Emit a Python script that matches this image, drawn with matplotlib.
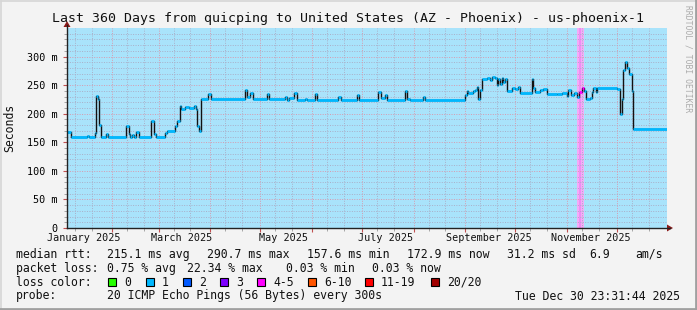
import datetime as dt
import matplotlib
matplotlib.use('Agg')
import matplotlib.pyplot as plt
from matplotlib.patches import Rectangle, Polygon

plt.rcParams['font.family'] = 'DejaVu Sans Mono'

W, H = 697, 310
t_end = dt.datetime(2025, 12, 30, 23, 31, 44)
t_start = t_end - dt.timedelta(days=360)

# median rtt as steps: day offset from start, value in ms
t_days = [0.0, 2.6, 12.0, 13.0, 17.0, 17.6, 18.6, 19.4, 20.6, 23.6, 24.6,
          35.6, 37.0, 38.0, 39.0, 40.0, 41.4, 43.4, 50.6, 52.2, 53.4, 59.0,
          60.0, 65.0, 66.2, 67.6, 68.6, 71.0, 73.0, 76.0, 77.4, 78.0, 79.0,
          80.6, 84.8, 86.2, 106.8, 108.2, 109.8, 111.4, 119.8, 121.0, 130.8,
          132.2, 133.4, 136.4, 137.8, 142.8, 143.8, 148.8, 150.2, 162.8,
          164.2, 173.8, 175.2, 186.8, 188.2, 190.8, 191.8, 202.8, 204.2,
          205.8, 213.8, 215.0, 238.8, 239.8, 240.8, 243.8, 244.8, 245.8,
          246.4, 247.8, 248.8, 251.8, 253.8, 254.8, 256.8, 257.8, 258.8,
          259.8, 260.8, 261.8, 262.8, 263.8, 266.8, 268.8, 270.8, 271.8,
          278.8, 279.8, 280.8, 283.8, 285.8, 287.8, 293.8, 296.8, 299.8,
          300.8, 302.2, 304.2, 305.8, 307.4, 308.8, 310.2, 311.4, 313.8,
          314.8, 315.8, 317.4, 318.2, 330.2, 331.8, 332.8, 333.8, 335.0,
          335.8, 337.2, 338.8, 339.8]
median_ms = [167.7, 159, 161, 159, 166, 231, 226, 180, 160, 165, 159,
             178, 165, 159, 163, 159, 168, 159, 187, 165, 159, 166,
             170, 178, 188, 214, 208, 212, 210, 213, 208, 178, 170,
             226, 235, 226, 241, 230, 236, 226, 235, 226, 229,
             224, 228, 236, 224, 226, 224, 234, 224, 229,
             224, 232, 224, 238, 228, 233, 224, 239, 226,
             224, 229, 224, 232, 240, 236, 239, 242, 246,
             226, 242, 261, 263, 259, 264, 262, 250, 260,
             252, 262, 256, 261, 239, 245, 243, 246, 237,
             261, 245, 238, 241, 244, 235, 234, 236, 231,
             241, 232, 236, 230, 238, 245, 240, 226, 228,
             238, 245, 238, 245, 244, 200, 225, 277, 291,
             280, 270, 239, 174]

# loss class 4-5 period (days)
loss_span = (306.0, 310.2)
loss_core = (307.0, 308.4)

loss_labels = ['0', '1', '2', '3', '4-5', '6-10', '11-19', '20/20']
loss_colors = ['#26ff00', '#00b8ff', '#0059ff', '#7e00ff', '#ff00ff',
               '#ff5500', '#ff0000', '#a10000']


def day(d):
    return (d - t_start).total_seconds() / 86400.0


fig = plt.figure(figsize=(W / 100, H / 100), dpi=100)
fig.patch.set_facecolor('#f3f3f3')

ax = fig.add_axes([67 / W, (H - 228) / H, 600 / W, 200 / H])
ax.set_facecolor('#a9e3fb')
ax.set_xlim(0, 360)
ax.set_ylim(0, 350)
for s in ax.spines.values():
    s.set_visible(False)

ax.axvspan(*loss_span, color='#f5aaf7', lw=0, zorder=0.5)
ax.axvspan(*loss_core, color='#ee8ef3', lw=0, zorder=0.6)

# grid
major_c = '#d89aae'
minor_c = '#a9afc8'
dots = (0, (1, 1.5))
for v in range(10, 350, 10):
    ax.axhline(v, color=major_c if v % 50 == 0 else minor_c, lw=0.7,
               ls=dots, zorder=1)
month_starts = [day(dt.datetime(2025, m, 1)) for m in range(2, 13)]
minor_days = [day(dt.datetime(2025, m, d)) for m in range(1, 13) for d in (10, 20)]
minor_days = [d for d in minor_days if 0 < d < 360]
for d in minor_days:
    ax.axvline(d, color=minor_c, lw=0.7, ls=dots, zorder=1)
for d in month_starts:
    ax.axvline(d, color=major_c, lw=0.7, ls=dots, zorder=1)

# median line
xs = t_days + [360.0]
ys = median_ms + [median_ms[-1]]
ax.step(xs, ys, where='post', color='#111111', lw=1.0, zorder=3)
seg_colors = [loss_colors[4] if loss_span[0] <= t < loss_span[1] else loss_colors[1]
              for t in t_days]
ax.hlines(median_ms, t_days, xs[1:], colors=seg_colors, lw=2.0, zorder=4)

# ticks
ax.set_yticks(range(0, 301, 50))
ax.set_yticklabels(['0'] + ['%d m' % v for v in range(50, 301, 50)])
ax.set_yticks(range(10, 350, 10), minor=True)
ax.tick_params(axis='y', which='major', length=3, width=0.8, color='#c05050',
               labelsize=7.3, pad=3.5)
ax.tick_params(axis='y', which='minor', length=2, width=0.6, color='#999999')
ax.set_xticks(month_starts)
ax.set_xticklabels([])
ax.set_xticks(minor_days, minor=True)
ax.tick_params(axis='x', which='major', length=3, width=0.8, color='#c05050')
ax.tick_params(axis='x', which='minor', length=2, width=0.6, color='#999999')

for m in (1, 3, 5, 7, 9, 11):
    d15 = dt.datetime(2025, m, 15)
    ax.text(day(d15), -0.05, d15.strftime('%B %Y'), transform=ax.get_xaxis_transform(),
            ha='center', va='center', fontsize=7.3, color='#111111')

# overlay in pixel coordinates
ov = fig.add_axes([0, 0, 1, 1], zorder=5)
ov.set_xlim(0, W)
ov.set_ylim(H, 0)
ov.axis('off')
ov.patch.set_alpha(0)

# frame shading
ov.plot([0.5, W - 0.5], [0.5, 0.5], color='#d6d6d6', lw=1.2)
ov.plot([0.5, 0.5], [0.5, H - 0.5], color='#d6d6d6', lw=1.2)
ov.plot([W - 1, W - 1], [0, H], color='#a0a0a0', lw=2)
ov.plot([0, W], [H - 1, H - 1], color='#a0a0a0', lw=2)

# axes with arrows
ov.plot([67, 67], [228, 25], color='#222222', lw=1)
ov.plot([67, 670], [228, 228], color='#222222', lw=1)
ov.add_patch(Polygon([[63.5, 27], [70.5, 27], [67, 21]], closed=True,
                     color='#8b1a1a', lw=0))
ov.add_patch(Polygon([[667, 224.5], [667, 231.5], [673, 228]], closed=True,
                     color='#8b1a1a', lw=0))

ov.text(348, 18.5, 'Last 360 Days from quicping to United States (AZ - Phoenix) - us-phoenix-1',
        ha='center', va='center', fontsize=9.5, color='#111111')
ov.text(10, 128, 'Seconds', rotation=90, ha='center', va='center',
        fontsize=8.3, color='#111111')
ov.text(688, 5, 'RRDTOOL / TOBI OETIKER', rotation=-90, ha='center', va='top',
        fontsize=5.8, color='#ababab')

fs = 8.3
rows = [
    (254.3, [(16, 'median rtt:'), (107.3, '215.1 ms avg'), (207.3, '290.7 ms max'),
             (306.7, '157.6 ms min'), (407.3, '172.9 ms now'), (507.3, '31.2 ms sd'),
             (589.3, '6.9'), (635, 'am/s')]),
    (268.3, [(16, 'packet loss:'), (107.3, '0.75 % avg'), (187.3, '22.34 % max'),
             (285.7, '0.03 % min'), (372.3, '0.03 % now')]),
    (282.3, [(16, 'loss color:')]),
    (296.0, [(16, 'probe:'), (107.3, '20 ICMP Echo Pings (56 Bytes) every 300s')]),
]
for y, items in rows:
    for x, s in items:
        ov.text(x, y, s, ha='left', va='center', fontsize=fs, color='#111111')
ov.text(680, 296.0, 'Tue Dec 30 23:31:44 2025', ha='right', va='center',
        fontsize=fs, color='#111111')

sq_x = [108, 146, 183, 220, 257, 308, 365, 430.7]
for x, lab, c in zip(sq_x, loss_labels, loss_colors):
    ov.add_patch(Rectangle((x, 278.3), 8, 8, facecolor=c, edgecolor='black', lw=0.8))
    ov.text(x + 16, 282.3, lab, ha='left', va='center', fontsize=fs, color='#111111')

fig.savefig('out.png', dpi=100, facecolor=fig.get_facecolor())
